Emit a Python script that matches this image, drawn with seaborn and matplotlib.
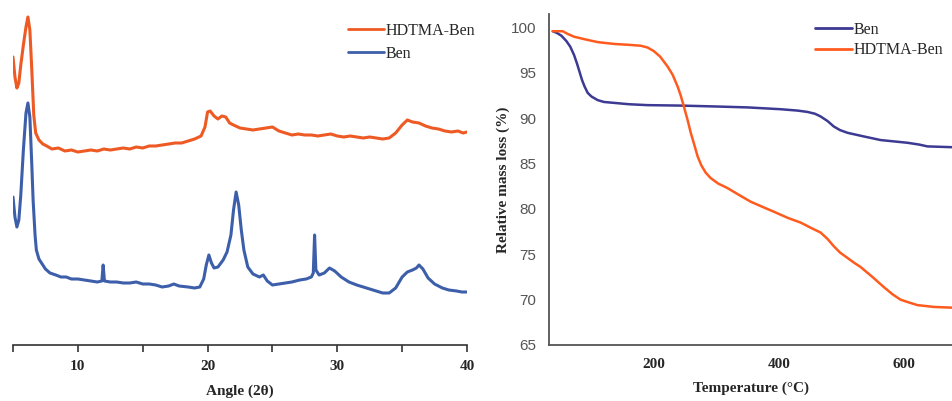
import numpy as np
import pandas as pd
import matplotlib
matplotlib.use("Agg")
import matplotlib.pyplot as plt
import seaborn as sns

# ---- XRD patterns (2-theta in degrees, intensity in arbitrary units) ----
xrd_angle_hdtma = [5.0, 5.15, 5.3, 5.45, 5.6, 5.8, 6.0, 6.15, 6.3, 6.45, 6.6, 6.75, 7.0, 7.3, 7.6,
                   8.0, 8.5, 9.0, 9.5, 10.0, 10.5, 11.0, 11.5, 12.0, 12.5, 13.0, 13.5, 14.0, 14.5,
                   15.0, 15.5, 16.0, 16.5, 17.0, 17.5, 18.0, 18.5, 19.0, 19.5, 19.8, 20.0, 20.2,
                   20.5, 20.8, 21.1, 21.4, 21.7, 22.0, 22.5, 23.0, 23.5, 24.0, 24.5, 25.0, 25.5,
                   26.0, 26.5, 27.0, 27.5, 28.0, 28.5, 29.0, 29.5, 30.0, 30.5, 31.0, 31.5, 32.0,
                   32.5, 33.0, 33.5, 34.0, 34.5, 35.0, 35.4, 35.8, 36.3, 36.8, 37.3, 37.8, 38.3,
                   38.8, 39.3, 39.7, 40.0]
xrd_int_hdtma = [288, 268, 257, 262, 280, 300, 318, 328, 315, 275, 230, 212, 205, 201, 199,
                 196, 197, 194, 195, 193, 194, 195, 194, 196, 195, 196, 197, 196, 198,
                 197, 199, 199, 200, 201, 202, 202, 204, 206, 209, 218, 233, 234,
                 229, 226, 229, 228, 222, 220, 217, 216, 215, 216, 217, 218, 214,
                 212, 210, 211, 210, 210, 209, 210, 211, 209, 208, 209, 208, 207,
                 208, 207, 206, 207, 212, 220, 225, 223, 222, 219, 217, 216, 214,
                 213, 214, 212, 213]

xrd_angle_ben = [5.0, 5.15, 5.3, 5.45, 5.6, 5.8, 6.0, 6.15, 6.3, 6.45, 6.55, 6.7, 6.8, 7.0, 7.2,
                 7.5, 7.85, 8.3, 8.7, 9.1, 9.5, 10.0, 10.5, 11.0, 11.5, 11.85, 11.95, 12.05,
                 12.5, 13.0, 13.5, 14.0, 14.5, 15.0, 15.5, 16.0, 16.5, 17.0, 17.4, 17.8, 18.5,
                 19.0, 19.4, 19.7, 19.9, 20.1, 20.3, 20.5, 20.8, 21.2, 21.5, 21.8, 22.0, 22.2,
                 22.4, 22.6, 22.8, 23.1, 23.5, 24.0, 24.3, 24.6, 25.0, 25.5, 26.0, 26.5, 27.1,
                 27.6, 28.0, 28.15, 28.25, 28.35, 28.6, 29.0, 29.4, 29.8, 30.3, 30.9, 31.5,
                 32.0, 32.5, 33.0, 33.5, 34.0, 34.5, 35.0, 35.4, 35.8, 36.1, 36.3, 36.6, 37.0,
                 37.5, 38.1, 38.6, 39.2, 39.6, 40.0]
xrd_int_ben = [148, 128, 118, 125, 150, 195, 232, 242, 228, 180, 145, 110, 95, 86, 82,
               76, 72, 70, 68, 68, 66, 66, 65, 64, 63, 64, 80, 64,
               63, 63, 62, 62, 63, 61, 61, 60, 58, 59, 61, 59, 58,
               57, 58, 66, 80, 90, 82, 77, 78, 85, 93, 110, 135, 153,
               140, 115, 95, 78, 71, 68, 70, 64, 60, 61, 62, 63, 65,
               66, 68, 72, 110, 75, 70, 72, 77, 74, 68, 63, 60,
               58, 56, 54, 52, 52, 57, 68, 73, 75, 77, 80, 76, 67,
               61, 57, 55, 54, 53, 53]

# ---- TGA curves (temperature in °C, relative mass in %) ----
tga_temp_ben = [38, 45, 52, 60, 66, 72, 77, 81, 85, 89, 94, 100, 110, 120, 136, 160, 190,
                243, 300, 350, 403, 430, 446, 458, 467, 478, 488, 498, 510, 536, 563, 606,
                625, 638, 683]
tga_mass_ben = [99.6, 99.4, 99.1, 98.5, 97.9, 97.0, 96.0, 95.1, 94.2, 93.5, 92.8, 92.4,
                92.0, 91.8, 91.7, 91.55, 91.45, 91.4, 91.3, 91.2, 91.0, 90.85, 90.7, 90.5,
                90.2, 89.7, 89.1, 88.7, 88.4, 88.0, 87.6, 87.3, 87.1, 86.9, 86.8]

tga_temp_hdtma = [38, 54, 62, 72, 90, 110, 136, 160, 179, 190, 200, 210, 222, 230, 238, 243,
                  248, 254, 259, 265, 270, 276, 283, 291, 303, 318, 335, 355, 375, 392, 415,
                  435, 452, 467, 478, 488, 498, 510, 520, 531, 550, 568, 582, 595, 608, 622,
                  648, 683]
tga_mass_hdtma = [99.6, 99.6, 99.3, 99.0, 98.7, 98.4, 98.2, 98.1, 98.0, 97.8, 97.4, 96.8,
                  95.7, 94.8, 93.5, 92.5, 91.3, 89.8, 88.4, 87.0, 85.8, 84.8, 84.0, 83.4,
                  82.8, 82.3, 81.6, 80.8, 80.2, 79.7, 79.0, 78.5, 77.9, 77.4, 76.7, 75.9,
                  75.2, 74.6, 74.1, 73.6, 72.5, 71.4, 70.6, 70.0, 69.7, 69.4, 69.2, 69.1]

xrd_ticks = [10, 20, 30, 40]
tga_xticks = [200, 400, 600]
tga_yticks = [65, 70, 75, 80, 85, 90, 95, 100]

sns.set_theme(style="white")
plt.rcParams["font.family"] = ["Liberation Serif", "DejaVu Serif"]

ORANGE_XRD = "#EE5A24"
BLUE_XRD = "#3D5FAA"
ORANGE_TGA = "#FF5B1F"
INDIGO_TGA = "#3C3A92"
AXIS_GREY = "#555555"

fig = plt.figure(figsize=(9.53, 4.01), dpi=100)

# ---------------- XRD panel ----------------
ax1 = fig.add_axes([13 / 953, 56 / 401, 454 / 953, 335 / 401])
df_h = pd.DataFrame({"angle": xrd_angle_hdtma, "intensity": xrd_int_hdtma})
df_b = pd.DataFrame({"angle": xrd_angle_ben, "intensity": xrd_int_ben})
sns.lineplot(data=df_h, x="angle", y="intensity", ax=ax1, color=ORANGE_XRD, lw=2.2,
             label="HDTMA-Ben", estimator=None, sort=False)
sns.lineplot(data=df_b, x="angle", y="intensity", ax=ax1, color=BLUE_XRD, lw=2.2,
             label="Ben", estimator=None, sort=False)
ax1.set_xlim(5, 40)
ax1.set_ylim(0, 335)
ax1.set_xticks(xrd_ticks)
ax1.set_xticks([5, 15, 25, 35], minor=True)
ax1.set_yticks([])
for s in ["left", "right", "top"]:
    ax1.spines[s].set_visible(False)
ax1.spines["bottom"].set_color("#333333")
ax1.spines["bottom"].set_linewidth(1.2)
ax1.tick_params(axis="x", which="both", direction="out", length=5, width=1.2,
                color="#333333", bottom=True, labelsize=11, pad=6)
for lab in ax1.get_xticklabels():
    lab.set_fontweight("bold")
ax1.set_xlabel("Angle (2θ)", fontsize=11, fontweight="bold", labelpad=8)
ax1.set_ylabel("")
leg1 = ax1.legend(loc="upper right", bbox_to_anchor=(1.04, 0.99), frameon=False,
                  fontsize=11.5, handlelength=2.3, handletextpad=0.1, labelspacing=0.42,
                  borderaxespad=0.2)
for h in leg1.get_lines():
    h.set_linewidth(2.0)

# ---------------- TGA panel ----------------
ax2 = fig.add_axes([549 / 953, 56 / 401, 404 / 953, 331 / 401])
df_tb = pd.DataFrame({"temp": tga_temp_ben, "mass": tga_mass_ben})
df_th = pd.DataFrame({"temp": tga_temp_hdtma, "mass": tga_mass_hdtma})
sns.lineplot(data=df_tb, x="temp", y="mass", ax=ax2, color=INDIGO_TGA, lw=1.8,
             label="Ben", estimator=None, sort=False)
sns.lineplot(data=df_th, x="temp", y="mass", ax=ax2, color=ORANGE_TGA, lw=1.8,
             label="HDTMA-Ben", estimator=None, sort=False)
ax2.set_xlim(32, 679)
ax2.set_ylim(65, 101.5)
ax2.set_xticks(tga_xticks)
ax2.set_yticks(tga_yticks)
for s in ["right", "top"]:
    ax2.spines[s].set_visible(False)
for s in ["left", "bottom"]:
    ax2.spines[s].set_color(AXIS_GREY)
    ax2.spines[s].set_linewidth(1.3)
ax2.tick_params(axis="both", length=0)
ax2.tick_params(axis="x", labelsize=11, pad=9)
ax2.tick_params(axis="y", labelsize=11, pad=9, labelcolor="#555555")
for lab in ax2.get_xticklabels():
    lab.set_fontweight("bold")
for lab in ax2.get_yticklabels():
    lab.set_family(["Liberation Sans", "DejaVu Sans"])
ax2.set_xlabel("Temperature (°C)", fontsize=11, fontweight="bold", labelpad=8)
ax2.set_ylabel("Relative mass loss (%)", fontsize=11, fontweight="bold", labelpad=1)
leg2 = ax2.legend(loc="upper right", bbox_to_anchor=(1.0, 1.005), frameon=False,
                  fontsize=11.5, handlelength=2.3, handletextpad=0.1, labelspacing=0.28,
                  borderaxespad=0.2)
for h in leg2.get_lines():
    h.set_linewidth(2.0)

fig.savefig("out.png", dpi=100)
